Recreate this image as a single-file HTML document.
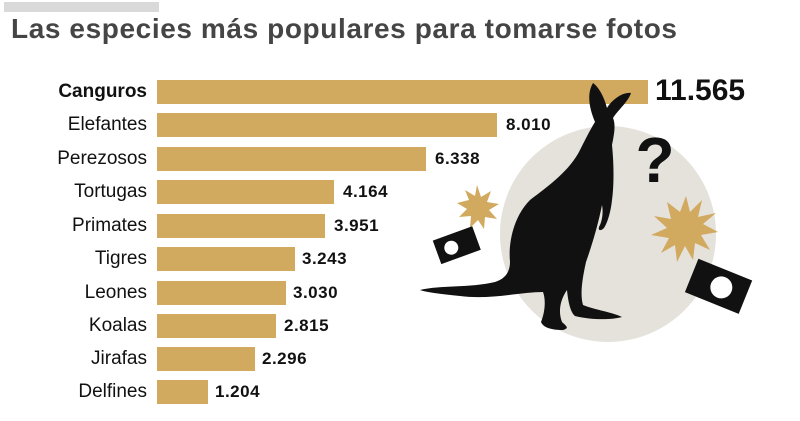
<!DOCTYPE html>
<html><head><meta charset="utf-8"><style>
body{margin:0;width:800px;height:421px;background:#fff;overflow:hidden;position:relative;font-family:"Liberation Sans",sans-serif}
.t{position:absolute;left:11px;top:13px;font-size:28px;font-weight:bold;color:#454545;letter-spacing:0.6px;white-space:nowrap}
.g{position:absolute;left:4px;top:2px;width:155px;height:10px;background:#d9d9d9}
.l{position:absolute;right:653px;font-size:19px;color:#111;white-space:nowrap;line-height:24px}
.b{position:absolute;left:157px;height:24px;background:#d1a95f}
.v{position:absolute;font-size:17px;font-weight:bold;color:#111;line-height:24px;letter-spacing:0.5px}
</style></head><body>
<div class="g"></div>
<div class="t">Las especies más populares para tomarse fotos</div>
<svg style="position:absolute;left:0;top:0" width="800" height="421">
<circle cx="608" cy="234" r="108" fill="#e5e1db"/>
</svg>
<div class="l" style="top:80px;font-weight:bold">Canguros</div><div class="b" style="top:80px;width:491px"></div>
<div class="l" style="top:113px">Elefantes</div><div class="b" style="top:113px;width:340px"></div><div class="v" style="top:113px;left:506px">8.010</div>
<div class="l" style="top:147px">Perezosos</div><div class="b" style="top:147px;width:269px"></div><div class="v" style="top:147px;left:435px">6.338</div>
<div class="l" style="top:180px">Tortugas</div><div class="b" style="top:180px;width:177px"></div><div class="v" style="top:180px;left:343px">4.164</div>
<div class="l" style="top:214px">Primates</div><div class="b" style="top:214px;width:168px"></div><div class="v" style="top:214px;left:334px">3.951</div>
<div class="l" style="top:247px">Tigres</div><div class="b" style="top:247px;width:138px"></div><div class="v" style="top:247px;left:302px">3.243</div>
<div class="l" style="top:281px">Leones</div><div class="b" style="top:281px;width:129px"></div><div class="v" style="top:281px;left:293px">3.030</div>
<div class="l" style="top:314px">Koalas</div><div class="b" style="top:314px;width:119px"></div><div class="v" style="top:314px;left:284px">2.815</div>
<div class="l" style="top:347px">Jirafas</div><div class="b" style="top:347px;width:98px"></div><div class="v" style="top:347px;left:262px">2.296</div>
<div class="l" style="top:380px">Delfines</div><div class="b" style="top:380px;width:51px"></div><div class="v" style="top:380px;left:215px">1.204</div>
<div style="position:absolute;left:655px;top:75px;font-size:30px;font-weight:bold;color:#111;line-height:32px">11.565</div>
<svg style="position:absolute;left:0;top:0" width="800" height="421">
<g fill="#d1a95f">
<polygon points="477,185 481,197 491,191 487,202 499,204 489,210 497,219 485,217 484,229 478,220 470,228 471,216 459,217 467,209 457,203 469,200 465,190 475,196"/>
<polygon points="686,196 690,212 702,200 698,217 716,213 703,224 718,232 701,235 710,250 695,243 693,260 685,246 677,262 675,245 661,253 669,238 651,235 667,228 654,216 671,219 667,202 680,212"/>
</g>
<g transform="rotate(-20 456 246)"><rect x="436" y="233" width="42" height="25" fill="#111"/><circle cx="451" cy="246" r="7" fill="#fff"/></g>
<g transform="rotate(22 718 285)"><rect x="690" y="268" width="58" height="36" fill="#111"/><circle cx="722" cy="286" r="11" fill="#fff"/></g>
<text x="655" y="182" font-family="Liberation Sans" font-weight="bold" font-size="64" fill="#111" text-anchor="middle">?</text>
<path fill="#111" d="M593,83 C600,88 605,100 607,108 C612,100 622,92 631,93 C628,102 618,110 613,118 C616,125 614,135 612,145 C614,165 614,185 612,200 C611,210 608,222 604,228 C600,232 597,230 600,225 C603,218 603,210 602,205 C598,225 592,245 586,262 C582,280 580,295 583,305 C595,310 612,312 622,317 C612,320 590,320 575,316 C570,312 568,300 567,290 C560,300 558,312 562,322 C566,326 570,328 563,330 C550,330 543,327 541,322 C545,312 546,300 543,292 C520,292 490,300 460,296 C440,294 425,292 420,290 C440,285 470,288 495,282 C505,279 510,272 510,262 C508,240 515,215 530,200 C550,185 570,170 580,150 C585,140 590,130 595,122 C590,110 586,95 593,83 Z"/>
</svg>
</body></html>
